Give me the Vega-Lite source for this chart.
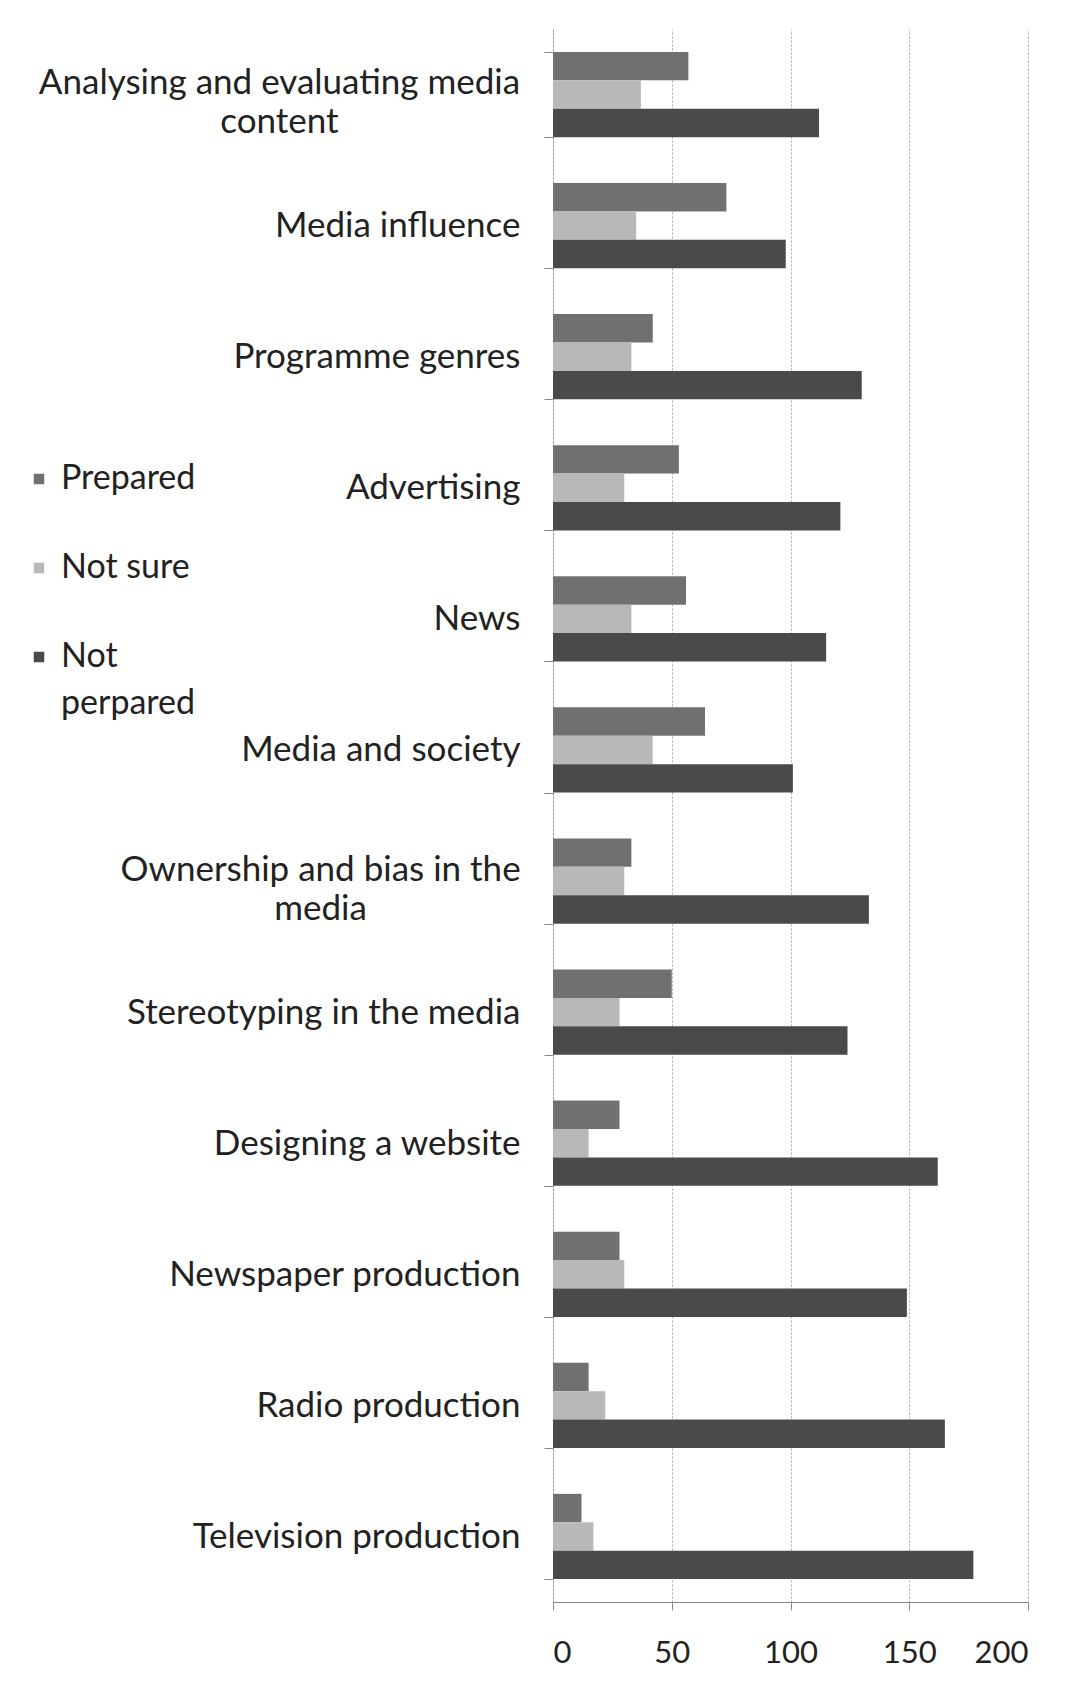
{
  "$schema": "https://vega.github.io/schema/vega-lite/v6.json",
  "autosize": {"type": "none"},
  "padding": {"left": 553, "top": 29, "right": 63, "bottom": 100},
  "width": 475,
  "height": 1573,
  "background": "white",
  "config": {
    "view": {"stroke": null},
    "font": "Lato",
    "axis": {"labelFont": "Lato", "labelColor": "#222222"},
    "legend": {"labelFont": "Lato", "labelColor": "#222222"},
    "style": {"guide-label": {"lineHeight": 47}}
  },
  "data": {
    "values": [
      {"category": "Analysing and evaluating media content", "series": "Prepared", "value": 57},
      {"category": "Analysing and evaluating media content", "series": "Not sure", "value": 37},
      {"category": "Analysing and evaluating media content", "series": "Not perpared", "value": 112},
      {"category": "Media influence", "series": "Prepared", "value": 73},
      {"category": "Media influence", "series": "Not sure", "value": 35},
      {"category": "Media influence", "series": "Not perpared", "value": 98},
      {"category": "Programme genres", "series": "Prepared", "value": 42},
      {"category": "Programme genres", "series": "Not sure", "value": 33},
      {"category": "Programme genres", "series": "Not perpared", "value": 130},
      {"category": "Advertising", "series": "Prepared", "value": 53},
      {"category": "Advertising", "series": "Not sure", "value": 30},
      {"category": "Advertising", "series": "Not perpared", "value": 121},
      {"category": "News", "series": "Prepared", "value": 56},
      {"category": "News", "series": "Not sure", "value": 33},
      {"category": "News", "series": "Not perpared", "value": 115},
      {"category": "Media and society", "series": "Prepared", "value": 64},
      {"category": "Media and society", "series": "Not sure", "value": 42},
      {"category": "Media and society", "series": "Not perpared", "value": 101},
      {"category": "Ownership and bias in the media", "series": "Prepared", "value": 33},
      {"category": "Ownership and bias in the media", "series": "Not sure", "value": 30},
      {"category": "Ownership and bias in the media", "series": "Not perpared", "value": 133},
      {"category": "Stereotyping in the media", "series": "Prepared", "value": 50},
      {"category": "Stereotyping in the media", "series": "Not sure", "value": 28},
      {"category": "Stereotyping in the media", "series": "Not perpared", "value": 124},
      {"category": "Designing a website", "series": "Prepared", "value": 28},
      {"category": "Designing a website", "series": "Not sure", "value": 15},
      {"category": "Designing a website", "series": "Not perpared", "value": 162},
      {"category": "Newspaper production", "series": "Prepared", "value": 28},
      {"category": "Newspaper production", "series": "Not sure", "value": 30},
      {"category": "Newspaper production", "series": "Not perpared", "value": 149},
      {"category": "Radio production", "series": "Prepared", "value": 15},
      {"category": "Radio production", "series": "Not sure", "value": 22},
      {"category": "Radio production", "series": "Not perpared", "value": 165},
      {"category": "Television production", "series": "Prepared", "value": 12},
      {"category": "Television production", "series": "Not sure", "value": 17},
      {"category": "Television production", "series": "Not perpared", "value": 177}
    ]
  },
  "mark": {"type": "bar"},
  "encoding": {
    "y": {
      "field": "category",
      "type": "nominal",
      "sort": ["Analysing and evaluating media content", "Media influence", "Programme genres", "Advertising", "News", "Media and society", "Ownership and bias in the media", "Stereotyping in the media", "Designing a website", "Newspaper production", "Radio production", "Television production"],
      "scale": {"paddingInner": 0.35, "paddingOuter": 0.175},
      "axis": {
        "title": null,
        "tickBand": "extent",
        "tickSize": 9,
        "tickColor": "#888888",
        "domainColor": "#999999",
        "domainDash": [2, 2],
        "labelFontSize": 35,
        "labelLimit": 0,
        "labelLineHeight": 39,
        "labelAlign": {"condition": {"test": "datum.value == 'Analysing and evaluating media content' || datum.value == 'Ownership and bias in the media'", "value": "center"}, "value": "right"},
        "labelPadding": {"condition": [{"test": "datum.value == 'Analysing and evaluating media content'", "value": 265}, {"test": "datum.value == 'Ownership and bias in the media'", "value": 224}], "value": 24},
        "labelOffset": {"condition": {"test": "datum.value == 'Analysing and evaluating media content' || datum.value == 'Ownership and bias in the media'", "value": -12}, "value": 0},
        "labelExpr": "datum.value == 'Analysing and evaluating media content' ? ['Analysing and evaluating media', 'content'] : datum.value == 'Ownership and bias in the media' ? ['Ownership and bias in the', 'media'] : datum.value"
      }
    },
    "x": {
      "field": "value",
      "type": "quantitative",
      "scale": {"domain": [0, 200], "nice": false},
      "axis": {
        "title": null,
        "values": [0, 50, 100, 150, 200],
        "grid": true,
        "gridColor": "#aaaaaa",
        "gridDash": [2, 2],
        "domainColor": "#888888",
        "tickColor": "#888888",
        "tickSize": 8,
        "labelFontSize": 31,
        "labelPadding": 28,
        "labelColor": "#222222"
      }
    },
    "yOffset": {
      "field": "series",
      "type": "nominal",
      "sort": ["Prepared", "Not sure", "Not perpared"]
    },
    "color": {
      "field": "series",
      "type": "nominal",
      "sort": ["Prepared", "Not sure", "Not perpared"],
      "scale": {"domain": ["Prepared", "Not sure", "Not perpared"], "range": ["#707070", "#b8b8b8", "#4a4a4a"]},
      "legend": {
        "title": null,
        "orient": "none",
        "legendX": -531,
        "legendY": 433,
        "symbolType": "square",
        "symbolSize": 110,
        "symbolStrokeWidth": 0,
        "labelFontSize": 34,
        "labelOffset": 5,
        "rowPadding": 55,
        "labelLimit": 0,
        "labelExpr": "datum.label == 'Not perpared' ? ['Not', 'perpared'] : datum.label"
      }
    }
  }
}
